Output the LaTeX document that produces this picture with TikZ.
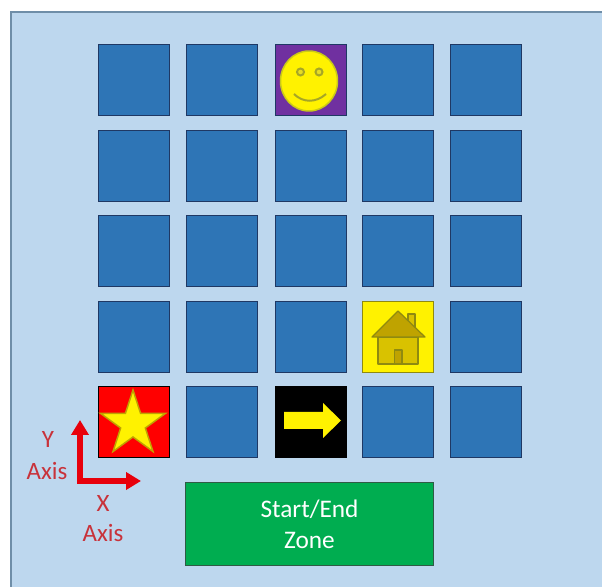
\documentclass[tikz,border=0pt]{standalone}
\usepackage{fontspec}
\setmainfont{Carlito}
\usetikzlibrary{arrows.meta, shapes.geometric}
\definecolor{panelblue}{HTML}{BDD7EE}
\definecolor{panelline}{HTML}{6F8EA8}
\definecolor{cellblue}{HTML}{2E75B6}
\definecolor{cellline}{HTML}{1F3864}
\definecolor{zonegreen}{HTML}{00AD50}
\definecolor{zoneline}{HTML}{2F5B45}
\definecolor{facepurple}{HTML}{7030A0}
\definecolor{faceline}{HTML}{A6A626}
\definecolor{roofgold}{HTML}{BFA300}
\definecolor{wallgold}{HTML}{D9C200}
\definecolor{houseline}{HTML}{8F8A10}
\definecolor{axisred}{HTML}{E8000B}
\definecolor{labelred}{HTML}{C8323A}
\begin{document}
\begin{tikzpicture}[
    x=0.02cm, y=-0.02cm,
    cell/.style={rectangle, draw=cellline, fill=cellblue, line width=0.3mm, minimum size=1.43cm, inner sep=0pt},
    zone/.style={rectangle, draw=zoneline, fill=zonegreen, line width=0.3mm, minimum width=4.97cm, minimum height=1.67cm, align=center, text=white, font=\fontsize{14.4}{17.6}\selectfont},
    axislabel/.style={text=labelred, font=\fontsize{14.2}{16}\selectfont, inner sep=0pt},
    axisline/.style={{Triangle[length=0.3cm, width=0.34cm]}-{Triangle[length=0.3cm, width=0.34cm]}, axisred, line width=1.05mm},
    eye/.style={circle, draw=faceline, fill=yellow!70!faceline, line width=0.4mm, minimum size=0.14cm, inner sep=0pt},
    houseedge/.style={draw=houseline, line width=0.25mm, line join=round}
]
    \useasboundingbox (0,0) rectangle (602,587);

    % Background
    \draw[draw=panelline, fill=panelblue, line width=0.4mm] (11,12) rectangle (640,620);

    % Grid
    \node[cell] (r1c1) at (134,80) {};
    \node[cell] (r1c2) at (222,80) {};
    \node[cell, fill=facepurple] (r1c3) at (311,80) {};
    \node[cell] (r1c4) at (398,80) {};
    \node[cell] (r1c5) at (486,80) {};
    \node[cell] (r2c1) at (134,166) {};
    \node[cell] (r2c2) at (222,166) {};
    \node[cell] (r2c3) at (311,166) {};
    \node[cell] (r2c4) at (398,166) {};
    \node[cell] (r2c5) at (486,166) {};
    \node[cell] (r3c1) at (134,251) {};
    \node[cell] (r3c2) at (222,251) {};
    \node[cell] (r3c3) at (311,251) {};
    \node[cell] (r3c4) at (398,251) {};
    \node[cell] (r3c5) at (486,251) {};
    \node[cell] (r4c1) at (134,337) {};
    \node[cell] (r4c2) at (222,337) {};
    \node[cell] (r4c3) at (311,337) {};
    \node[cell, draw=houseline, fill=yellow] (r4c4) at (398,337) {};
    \node[cell] (r4c5) at (486,337) {};
    \node[cell, draw=black, fill=red] (r5c1) at (134,422) {};
    \node[cell] (r5c2) at (222,422) {};
    \node[cell, draw=black, fill=black] (r5c3) at (311,422) {};
    \node[cell] (r5c4) at (398,422) {};
    \node[cell] (r5c5) at (486,422) {};

    % Face
    \node[ellipse, draw=faceline!60!yellow, fill=yellow, line width=0.3mm, minimum width=1.14cm, minimum height=1.2cm, inner sep=0pt] (face) at (309,81) {};
    \node[eye] (lefteye) at (300.5,72) {};
    \node[eye] (righteye) at (319,72) {};
    \draw[draw=faceline, line width=0.4mm] (294,94) .. controls (303,103) and (316,103) .. (326,94);

    % House
    \draw[houseedge, fill=wallgold] (408,314) rectangle (415,332);
    \draw[houseedge, fill=wallgold] (378,337) rectangle (418,364);
    \draw[houseedge, fill=roofgold] (398,311) -- (425,337) -- (372,337) -- cycle;
    \draw[houseedge, fill=roofgold] (394.5,350) rectangle (402,364);

    % Star and arrow
    \node[star, star points=5, star point ratio=2.618, draw=roofgold, fill=yellow, line width=0.3mm, minimum size=1.36cm, inner sep=0pt] (goal) at (133,424) {};
    \fill[yellow] (284,412) -- (323,412) -- (323,403) -- (341,420.5) -- (323,438) -- (323,429) -- (284,429) -- cycle;

    % Axes
    \coordinate (ytip) at (80,420);
    \coordinate (xtip) at (141,481);
    \draw[axisline] (ytip) |- (xtip);
    \node[axislabel] (ylabel) at (48,439) {Y};
    \node[axislabel] (ylabeltwo) at (47,471) {Axis};
    \node[axislabel] (xlabel) at (103,503) {X};
    \node[axislabel] (xlabeltwo) at (103,533) {Axis};

    % Zone
    \node[zone] (startend) at (309.5,524) {Start/End\\Zone};
\end{tikzpicture}
\end{document}
